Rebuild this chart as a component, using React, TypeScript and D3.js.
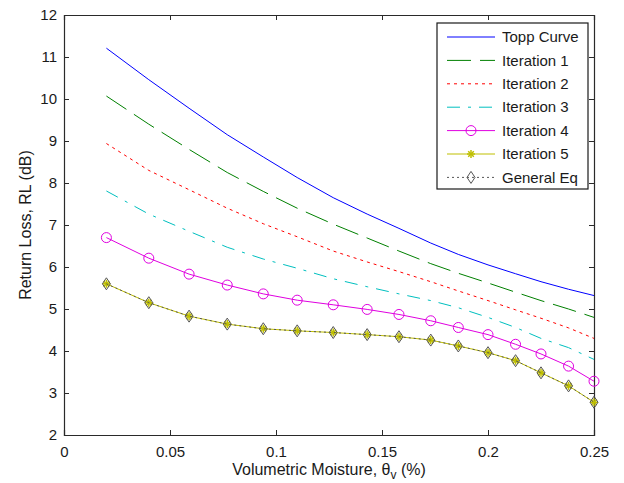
import * as d3 from "d3";
import { useEffect, useRef } from "react";

// volumetric moisture (x) shared by every series
const moisture = [0.02, 0.04, 0.059, 0.077, 0.094, 0.11, 0.127, 0.143, 0.158, 0.173, 0.186, 0.2, 0.213, 0.225, 0.238, 0.25];

const toppCurve = [11.21, 10.46, 9.78, 9.15, 8.62, 8.13, 7.65, 7.26, 6.92, 6.57, 6.3, 6.05, 5.84, 5.65, 5.47, 5.32];
const iteration1 = [10.07, 9.4, 8.8, 8.25, 7.8, 7.4, 7.02, 6.69, 6.38, 6.08, 5.85, 5.62, 5.4, 5.2, 5.0, 4.8];
const iteration2 = [8.94, 8.3, 7.84, 7.4, 7.03, 6.72, 6.38, 6.12, 5.89, 5.65, 5.43, 5.2, 4.98, 4.78, 4.55, 4.3];
const iteration3 = [7.81, 7.26, 6.85, 6.47, 6.19, 5.97, 5.72, 5.53, 5.36, 5.2, 5.03, 4.8, 4.56, 4.3, 4.08, 3.8];
const iteration4 = [6.7, 6.21, 5.83, 5.57, 5.36, 5.21, 5.1, 4.99, 4.87, 4.72, 4.56, 4.39, 4.16, 3.93, 3.64, 3.28];
const iteration5 = [5.6, 5.15, 4.83, 4.64, 4.53, 4.48, 4.44, 4.39, 4.34, 4.26, 4.12, 3.96, 3.77, 3.48, 3.17, 2.78];
const generalEq = [5.6, 5.15, 4.83, 4.64, 4.53, 4.48, 4.44, 4.39, 4.34, 4.26, 4.12, 3.96, 3.77, 3.48, 3.17, 2.78];

const seriesNames = ["Topp Curve", "Iteration 1", "Iteration 2", "Iteration 3", "Iteration 4", "Iteration 5", "General Eq"];

const xTicks = [0, 0.05, 0.1, 0.15, 0.2, 0.25];
const xTickLabels = ["0", "0.05", "0.1", "0.15", "0.2", "0.25"];
const yTicks = [2, 3, 4, 5, 6, 7, 8, 9, 10, 11, 12];

const FONT = "'Liberation Sans', Arial, sans-serif";

const App = () => {
  const svgRef = useRef<SVGSVGElement>(null);

  const renderSVG = () => {
    const dims = {
      width: 624,
      height: 483,
      margin: { top: 15, left: 64, right: 30, bottom: 48 },
    };
    const innerWidth = dims.width - dims.margin.left - dims.margin.right;
    const innerHeight = dims.height - dims.margin.top - dims.margin.bottom;

    const xScale = d3.scaleLinear([0, 0.25], [0, innerWidth]);
    const yScale = d3.scaleLinear([2, 12], [innerHeight, 0]);

    const styles = [
      { color: "#0000ff", dash: null, marker: null },
      { color: "#008000", dash: "24,9", marker: null },
      { color: "#ff0000", dash: "3,4", marker: null },
      { color: "#00bfbf", dash: "13,8,3,8", marker: null },
      { color: "#e000e0", dash: null, marker: "circle" },
      { color: "#bfbf00", dash: null, marker: "star" },
      { color: "#555555", dash: "2,3", marker: "diamond" },
    ];
    const allSeries = [toppCurve, iteration1, iteration2, iteration3, iteration4, iteration5, generalEq];

    const root = d3.select(svgRef.current);
    root.selectAll("*").remove();
    root.attr("width", dims.width).attr("height", dims.height);

    root.append("rect").attr("width", dims.width).attr("height", dims.height).attr("fill", "#fff");

    const svg = root
      .append("g")
      .attr("transform", `translate(${dims.margin.left}, ${dims.margin.top})`);

    const styleAxis = (g) => {
      g.select("path.domain").attr("stroke", "#2a2a2a").attr("stroke-width", 1.2);
      g.selectAll(".tick line").attr("stroke", "#2a2a2a");
      g.selectAll(".tick text").attr("font-size", 15).attr("font-family", FONT).attr("fill", "#1a1a1a");
    };

    svg
      .append("g")
      .attr("transform", `translate(0,${innerHeight})`)
      .call(
        d3.axisBottom(xScale).tickValues(xTicks).tickSize(-5).tickPadding(11)
          .tickFormat((d, i) => xTickLabels[i])
      )
      .call(styleAxis);

    svg
      .append("g")
      .call(d3.axisTop(xScale).tickValues(xTicks).tickSize(-5).tickFormat(() => ""))
      .call(styleAxis);

    svg
      .append("g")
      .call(d3.axisLeft(yScale).tickValues(yTicks).tickSize(-5).tickPadding(7).tickFormat(d3.format("d")))
      .call(styleAxis);

    svg
      .append("g")
      .attr("transform", `translate(${innerWidth},0)`)
      .call(d3.axisRight(yScale).tickValues(yTicks).tickSize(-5).tickFormat(() => ""))
      .call(styleAxis);

    // axis titles
    const xTitle = svg
      .append("text")
      .attr("x", innerWidth / 2)
      .attr("y", innerHeight + 40)
      .attr("text-anchor", "middle")
      .attr("font-size", 16)
      .attr("font-family", FONT)
      .attr("fill", "#1a1a1a");
    xTitle.append("tspan").text("Volumetric Moisture, θ");
    xTitle.append("tspan").attr("dy", 4).attr("font-size", 12).text("v");
    xTitle.append("tspan").attr("dy", -4).text(" (%)");

    svg
      .append("text")
      .attr("transform", `translate(${31 - dims.margin.left},${innerHeight / 2}) rotate(-90)`)
      .attr("text-anchor", "middle")
      .attr("font-size", 16)
      .attr("font-family", FONT)
      .attr("fill", "#1a1a1a")
      .text("Return Loss, RL (dB)");

    const line = d3
      .line<number>()
      .x((d, i) => xScale(moisture[i]))
      .y((d) => yScale(d));

    const drawMarker = (g, type, color, cx, cy) => {
      if (type === "circle") {
        g.append("circle").attr("cx", cx).attr("cy", cy).attr("r", 5)
          .attr("fill", "none").attr("stroke", color).attr("stroke-width", 1);
      } else if (type === "star") {
        const s = 4;
        const segs = [
          [-s, 0, s, 0], [0, -s, 0, s], [-s * 0.7, -s * 0.7, s * 0.7, s * 0.7], [-s * 0.7, s * 0.7, s * 0.7, -s * 0.7],
        ];
        segs.forEach(([x1, y1, x2, y2]) =>
          g.append("line").attr("x1", cx + x1).attr("y1", cy + y1).attr("x2", cx + x2).attr("y2", cy + y2)
            .attr("stroke", color).attr("stroke-width", 1.5)
        );
      } else if (type === "diamond") {
        g.append("path")
          .attr("d", `M${cx},${cy - 6}L${cx + 4},${cy}L${cx},${cy + 6}L${cx - 4},${cy}Z`)
          .attr("fill", "none").attr("stroke", color).attr("stroke-width", 1);
      }
    };

    allSeries.forEach((values, k) => {
      const st = styles[k];
      const g = svg.append("g");
      g.append("path")
        .datum(values)
        .attr("d", line)
        .attr("fill", "none")
        .attr("stroke", st.color)
        .attr("stroke-width", 1)
        .attr("stroke-dasharray", st.dash);
      if (st.marker) {
        values.forEach((v, i) => drawMarker(g, st.marker, st.color, xScale(moisture[i]), yScale(v)));
      }
    });

    // legend
    const legend = svg.append("g").attr("transform", `translate(${437 - dims.margin.left},${23 - dims.margin.top})`);
    legend.append("rect").attr("width", 151).attr("height", 166)
      .attr("fill", "#fff").attr("stroke", "#1a1a1a").attr("stroke-width", 1.2);
    seriesNames.forEach((name, k) => {
      const st = styles[k];
      const cy = 14 + k * 23.4;
      legend.append("line").attr("x1", 10).attr("x2", 58).attr("y1", cy).attr("y2", cy)
        .attr("stroke", st.color).attr("stroke-width", 1).attr("stroke-dasharray", st.dash);
      if (st.marker) drawMarker(legend, st.marker, st.color, 34, cy);
      legend.append("text")
        .attr("x", 65)
        .attr("y", cy)
        .attr("dy", "0.35em")
        .attr("font-size", 15)
        .attr("font-family", FONT)
        .attr("fill", "#1a1a1a")
        .text(name);
    });
  };

  useEffect(() => {
    renderSVG();
  });

  return (
    <svg ref={svgRef} style={{ position: "absolute", left: 0, top: 0, display: "block" }} />
  );
};

export default App;
